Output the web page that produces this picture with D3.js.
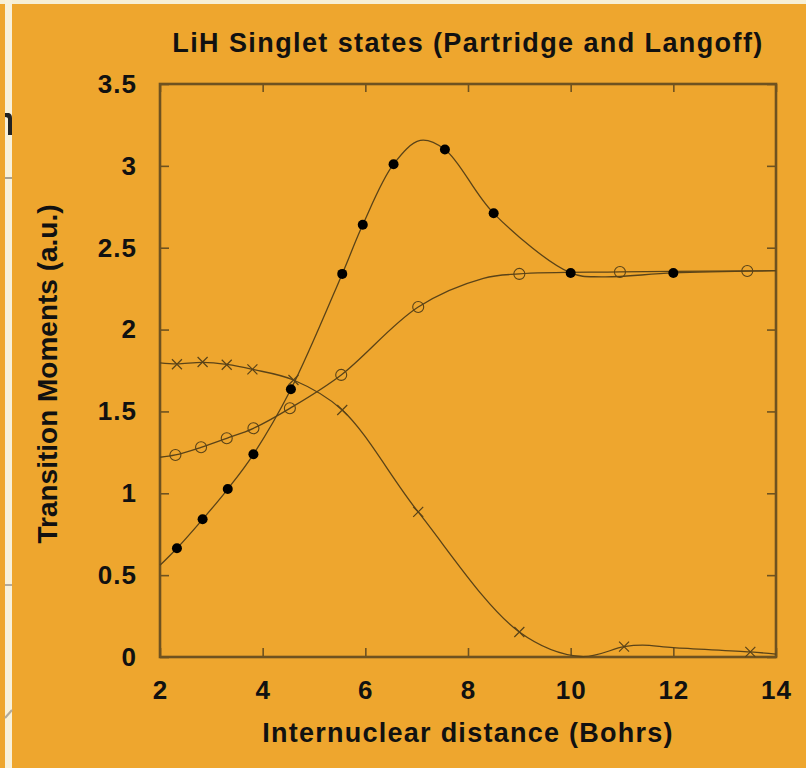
<!DOCTYPE html>
<html>
<head>
<meta charset="utf-8">
<script src="https://cdn.jsdelivr.net/npm/d3@7"></script>
<style>
  html, body { margin: 0; padding: 0; background: #eea62e; }
  svg { display: block; }
  .lbl { font-family: "Liberation Sans", Arial, sans-serif; font-weight: bold; fill: #111; }
</style>
</head>
<body>
<div id="chart"></div>
<script>
// data
const titleText = 'LiH Singlet states (Partridge and Langoff)'
const xLabel = 'Internuclear distance (Bohrs)'
const yLabel = 'Transition Moments (a.u.)'
const xTicks = [2, 4, 6, 8, 10, 12, 14]
const yTicks = [0, 0.5, 1, 1.5, 2, 2.5, 3, 3.5]

// filled circles
const dotX = [2.33, 2.83, 3.32, 3.82, 4.55, 5.55, 5.95, 6.55, 7.55, 8.5, 10, 12]
const dotY = [0.664, 0.841, 1.026, 1.238, 1.635, 2.34, 2.64, 3.01, 3.10, 2.71, 2.346, 2.346]
// open circles
const ringX = [2.3, 2.8, 3.3, 3.82, 4.53, 5.53, 7.03, 9.0, 10.96, 13.44]
const ringY = [1.234, 1.281, 1.336, 1.397, 1.519, 1.723, 2.138, 2.34, 2.352, 2.358]
// crosses
const crossX = [2.33, 2.83, 3.3, 3.8, 4.6, 5.55, 7.03, 9.0, 11.04, 13.5]
const crossY = [1.788, 1.802, 1.785, 1.757, 1.692, 1.509, 0.886, 0.153, 0.063, 0.031]

// fitted curves (knots)
const fitDotX = [2, 2.33, 2.83, 3.32, 3.82, 4.55, 5.55, 5.95, 6.55, 7.07, 7.55, 8.5, 10, 10.6, 12, 14]
const fitDotY = [0.56, 0.664, 0.841, 1.026, 1.238, 1.635, 2.34, 2.64, 3.01, 3.155, 3.10, 2.71, 2.346, 2.322, 2.346, 2.36]
const fitRingX = [2, 2.3, 2.8, 3.3, 3.82, 4.53, 5.53, 7.03, 8.3, 9.0, 10.96, 13.44, 14]
const fitRingY = [1.22, 1.234, 1.281, 1.336, 1.397, 1.519, 1.723, 2.138, 2.313, 2.34, 2.352, 2.358, 2.36]
const fitCrossX = [2, 2.33, 2.83, 3.3, 3.8, 4.6, 5.55, 7.03, 9.0, 10.2, 11.04, 11.4, 12, 13.5, 14]
const fitCrossY = [1.796, 1.79, 1.8, 1.787, 1.757, 1.692, 1.509, 0.886, 0.153, 0.003, 0.063, 0.072, 0.057, 0.031, 0.018]

// canvas
const width = 806
const height = 768
const margin = { top: 84, right: 30, bottom: 111, left: 160 }
const w = width - margin.left - margin.right
const h = height - margin.top - margin.bottom
const ink = '#6e5220'
const lineCol = '#5a4318'

const svg = d3.select('#chart').append('svg')
    .attr('width', width)
    .attr('height', height)

svg.append('rect')
    .attr('width', width).attr('height', height)
    .attr('fill', '#eea62e')

// bits of the page behind the figure
svg.append('rect').attr('x', 0).attr('y', 0).attr('width', width).attr('height', 4).attr('fill', '#f6efd6')
svg.append('rect').attr('x', 5).attr('y', 0).attr('width', 7).attr('height', height).attr('fill', '#f8f1da')
svg.append('path')
    .attr('d', 'M5,113 L9,113 Q12,114 12,118 L12,135 L8,135 L8,119 Q8,117 5,117 Z')
    .attr('fill', '#222')
svg.append('rect').attr('x', 5).attr('y', 177).attr('width', 7).attr('height', 2).attr('fill', '#a9a294')
svg.append('rect').attr('x', 5).attr('y', 584).attr('width', 7).attr('height', 2).attr('fill', '#b3ab9c')
svg.append('line').attr('x1', 5).attr('y1', 718).attr('x2', 12).attr('y2', 710)
    .attr('stroke', '#b3ab9c').attr('stroke-width', 2)

const g = svg.append('g')
    .attr('transform', `translate(${margin.left}, ${margin.top})`)

const x = d3.scaleLinear().domain([2, 14]).range([0, w])
const y = d3.scaleLinear().domain([0, 3.5]).range([h, 0])

const fmt = d => String(d)

// axes, ticks pointing inward
const axL = g.append('g')
    .call(d3.axisLeft(y).tickValues(yTicks).tickSize(-9).tickPadding(23).tickFormat(fmt))
const axB = g.append('g').attr('transform', `translate(0, ${h})`)
    .call(d3.axisBottom(x).tickValues(xTicks).tickSize(-9).tickPadding(24).tickFormat(fmt))
const axT = g.append('g')
    .call(d3.axisTop(x).tickValues(xTicks).tickSize(-8).tickFormat(''))
const axR = g.append('g').attr('transform', `translate(${w}, 0)`)
    .call(d3.axisRight(y).tickValues(yTicks).tickSize(-9).tickFormat(''))

for (const ax of [axL, axB, axT, axR]) {
    ax.select('.domain').remove()
    ax.selectAll('.tick line').attr('stroke', ink).attr('stroke-width', 1.6)
    ax.selectAll('.tick text')
        .attr('class', 'lbl')
        .style('font-size', '26px')
        .style('letter-spacing', '1px')
}

// frame
g.append('rect')
    .attr('width', w).attr('height', h)
    .attr('fill', 'none')
    .attr('stroke', ink)
    .attr('stroke-width', 2.6)

// curves
const line = d3.line()
    .curve(d3.curveCatmullRom.alpha(0.5))
    .x(d => x(d[0]))
    .y(d => y(d[1]))
const fits = [
    d3.zip(fitDotX, fitDotY),
    d3.zip(fitRingX, fitRingY),
    d3.zip(fitCrossX, fitCrossY)
]
g.selectAll('.fit').data(fits).join('path')
    .attr('class', 'fit')
    .attr('d', line)
    .attr('fill', 'none')
    .attr('stroke', lineCol)
    .attr('stroke-width', 1.3)

// markers
g.selectAll('.dot').data(d3.zip(dotX, dotY)).join('circle')
    .attr('class', 'dot')
    .attr('cx', d => x(d[0]))
    .attr('cy', d => y(d[1]))
    .attr('r', 5)
    .attr('fill', '#000')

g.selectAll('.ring').data(d3.zip(ringX, ringY)).join('circle')
    .attr('class', 'ring')
    .attr('cx', d => x(d[0]))
    .attr('cy', d => y(d[1]))
    .attr('r', 5.5)
    .attr('fill', 'none')
    .attr('stroke', lineCol)
    .attr('stroke-width', 1.1)

const cs = 5
g.selectAll('.cross').data(d3.zip(crossX, crossY)).join('path')
    .attr('class', 'cross')
    .attr('d', d => {
        const cx = x(d[0]), cy = y(d[1])
        return `M${cx - cs},${cy - cs}L${cx + cs},${cy + cs}M${cx - cs},${cy + cs}L${cx + cs},${cy - cs}`
    })
    .attr('stroke', lineCol)
    .attr('stroke-width', 1.2)

// texts
svg.append('text')
    .attr('class', 'lbl')
    .attr('x', 468).attr('y', 52)
    .attr('text-anchor', 'middle')
    .style('font-size', '27px')
    .style('letter-spacing', '1.4px')
    .text(titleText)

svg.append('text')
    .attr('class', 'lbl')
    .attr('x', 468).attr('y', 742)
    .attr('text-anchor', 'middle')
    .style('font-size', '27px')
    .style('letter-spacing', '1.25px')
    .text(xLabel)

svg.append('text')
    .attr('class', 'lbl')
    .attr('transform', 'translate(57, 374) rotate(-90)')
    .attr('text-anchor', 'middle')
    .style('font-size', '28px')
    .text(yLabel)
</script>
</body>
</html>
